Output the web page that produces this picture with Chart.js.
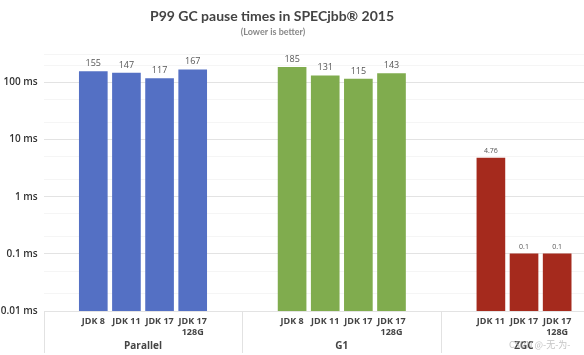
<!DOCTYPE html>
<html><head><meta charset="utf-8">
<script src="https://cdn.jsdelivr.net/npm/chart.js@4.4.1/dist/chart.umd.min.js"></script>
<style>html,body{margin:0;padding:0;background:#fff;overflow:hidden}#wrap{width:584px;height:355px;position:relative}</style>
</head><body><div id="wrap"><canvas id="c" width="584" height="355"></canvas></div>
<script>
const titleText = 'P99 GC pause times in SPECjbb® 2015';
const subtitleText = '(Lower is better)';
const watermarkText = 'CSDN @-无-为-';
const groupNames = ['Parallel', 'G1', 'ZGC'];
const parallelLabels = ['JDK 8', 'JDK 11', 'JDK 17', ['JDK 17', '128G']];
const parallelValues = [155, 147, 117, 167];
const g1Labels = ['JDK 8', 'JDK 11', 'JDK 17', ['JDK 17', '128G']];
const g1Values = [185, 131, 115, 143];
const zgcLabels = ['JDK 11', 'JDK 17', ['JDK 17', '128G']];
const zgcValues = [4.76, 0.1, 0.1];
const yTickValues = [0.01, 0.1, 1, 10, 100];
const yMinorValues = [0.02, 0.05, 0.2, 0.5, 2, 5, 20, 50, 200];
const groupColors = ['#5470c4', '#80ac4e', '#a52a1d'];

const groupLabels = [parallelLabels, g1Labels, zgcLabels];
const groupValues = [parallelValues, g1Values, zgcValues];
const SLOTS_PER_GROUP = 6;
const labelMap = {};
const positions = [];
const datasets = groupValues.map((vals, g) => {
  const data = vals.map((v, i) => {
    const pos = g * SLOTS_PER_GROUP + i;
    labelMap[pos] = groupLabels[g][i];
    positions.push(pos);
    return {x: pos, y: v};
  });
  return {
    label: groupNames[g], data, backgroundColor: groupColors[g],
    borderWidth: 0, barThickness: 28, grouped: false,
    valueFontSize: g === 2 ? 7 : 9
  };
});
const groupCenters = groupLabels.map((l, g) => g * SLOTS_PER_GROUP + (l.length - 1) / 2);
const separators = [-1.5, SLOTS_PER_GROUP - 1.5, 2 * SLOTS_PER_GROUP - 1.5];

const decor = {
  id: 'decor',
  afterDatasetsDraw(chart) {
    const ctx = chart.ctx;
    ctx.save();
    ctx.textAlign = 'center';
    ctx.textBaseline = 'middle';
    chart.data.datasets.forEach((ds, di) => {
      const meta = chart.getDatasetMeta(di);
      meta.data.forEach((bar, i) => {
        ctx.font = ds.valueFontSize + 'px "Open Sans"';
        ctx.fillStyle = '#555';
        ctx.fillText(String(ds.data[i].y), bar.x, bar.y - (ds.valueFontSize === 7 ? 7 : 8));
      });
    });
    ctx.restore();
  },
  afterDraw(chart) {
    const ctx = chart.ctx;
    const xs = chart.scales.x;
    const area = chart.chartArea;
    ctx.save();
    ctx.textAlign = 'center';
    ctx.textBaseline = 'middle';
    ctx.fillStyle = '#444';
    ctx.font = 'bold 14px Lato';
    ctx.fillText(titleText, 272, 16);
    ctx.fillStyle = '#888';
    ctx.font = 'bold 9px Lato';
    ctx.fillText(subtitleText, 273, 32);
    ctx.strokeStyle = '#e2e2e2';
    ctx.lineWidth = 1;
    separators.forEach(s => {
      const px = Math.round(xs.getPixelForValue(s)) + 0.5;
      ctx.beginPath();
      ctx.moveTo(px, area.bottom);
      ctx.lineTo(px, chart.height - 2);
      ctx.stroke();
    });
    ctx.fillStyle = '#444';
    ctx.font = 'bold 10px "Open Sans"';
    groupNames.forEach((n, g) => {
      ctx.fillText(n, xs.getPixelForValue(groupCenters[g]), 346);
    });
    ctx.fillStyle = 'rgba(170,170,170,0.7)';
    ctx.font = '9px "Noto Sans CJK SC"';
    ctx.textAlign = 'left';
    ctx.fillText(watermarkText, 509, 345);
    ctx.restore();
  }
};

new Chart(document.getElementById('c'), {
  type: 'bar',
  data: {datasets},
  options: {
    responsive: false,
    devicePixelRatio: 1,
    animation: false,
    layout: {padding: {top: 54, left: 0, right: 0, bottom: 0}},
    plugins: {legend: {display: false}, tooltip: {enabled: false}},
    scales: {
      x: {
        type: 'linear', min: -1.5, max: 14.81, offset: false,
        grid: {display: false, drawTicks: false},
        border: {display: false},
        afterFit(s) { s.height = 44; },
        afterBuildTicks(s) { s.ticks = positions.map(v => ({value: v})); },
        ticks: {
          autoSkip: false, maxRotation: 0, minRotation: 0, padding: 5,
          color: '#444', font: {family: 'Open Sans', size: 9, weight: 'bold', lineHeight: 1.2},
          callback: v => labelMap[v]
        }
      },
      y: {
        type: 'logarithmic', min: 0.01, max: 316,
        afterFit(s) { s.width = 43.6; },
        afterBuildTicks(s) {
          s.ticks = yTickValues.concat(yMinorValues, [316]).sort((a, b) => a - b).map(v => ({value: v}));
        },
        grid: {
          drawTicks: false, lineWidth: 1,
          color: c => (yTickValues.includes(c.tick.value) ? '#e3e3e3' : '#f5f5f5')
        },
        border: {display: false},
        ticks: {
          autoSkip: false, padding: 6, color: '#333',
          font: {family: 'Open Sans', size: 10, weight: '600'},
          callback: v => (yTickValues.includes(v) ? v + ' ms' : '')
        }
      }
    }
  },
  plugins: [decor]
});
</script></body></html>
